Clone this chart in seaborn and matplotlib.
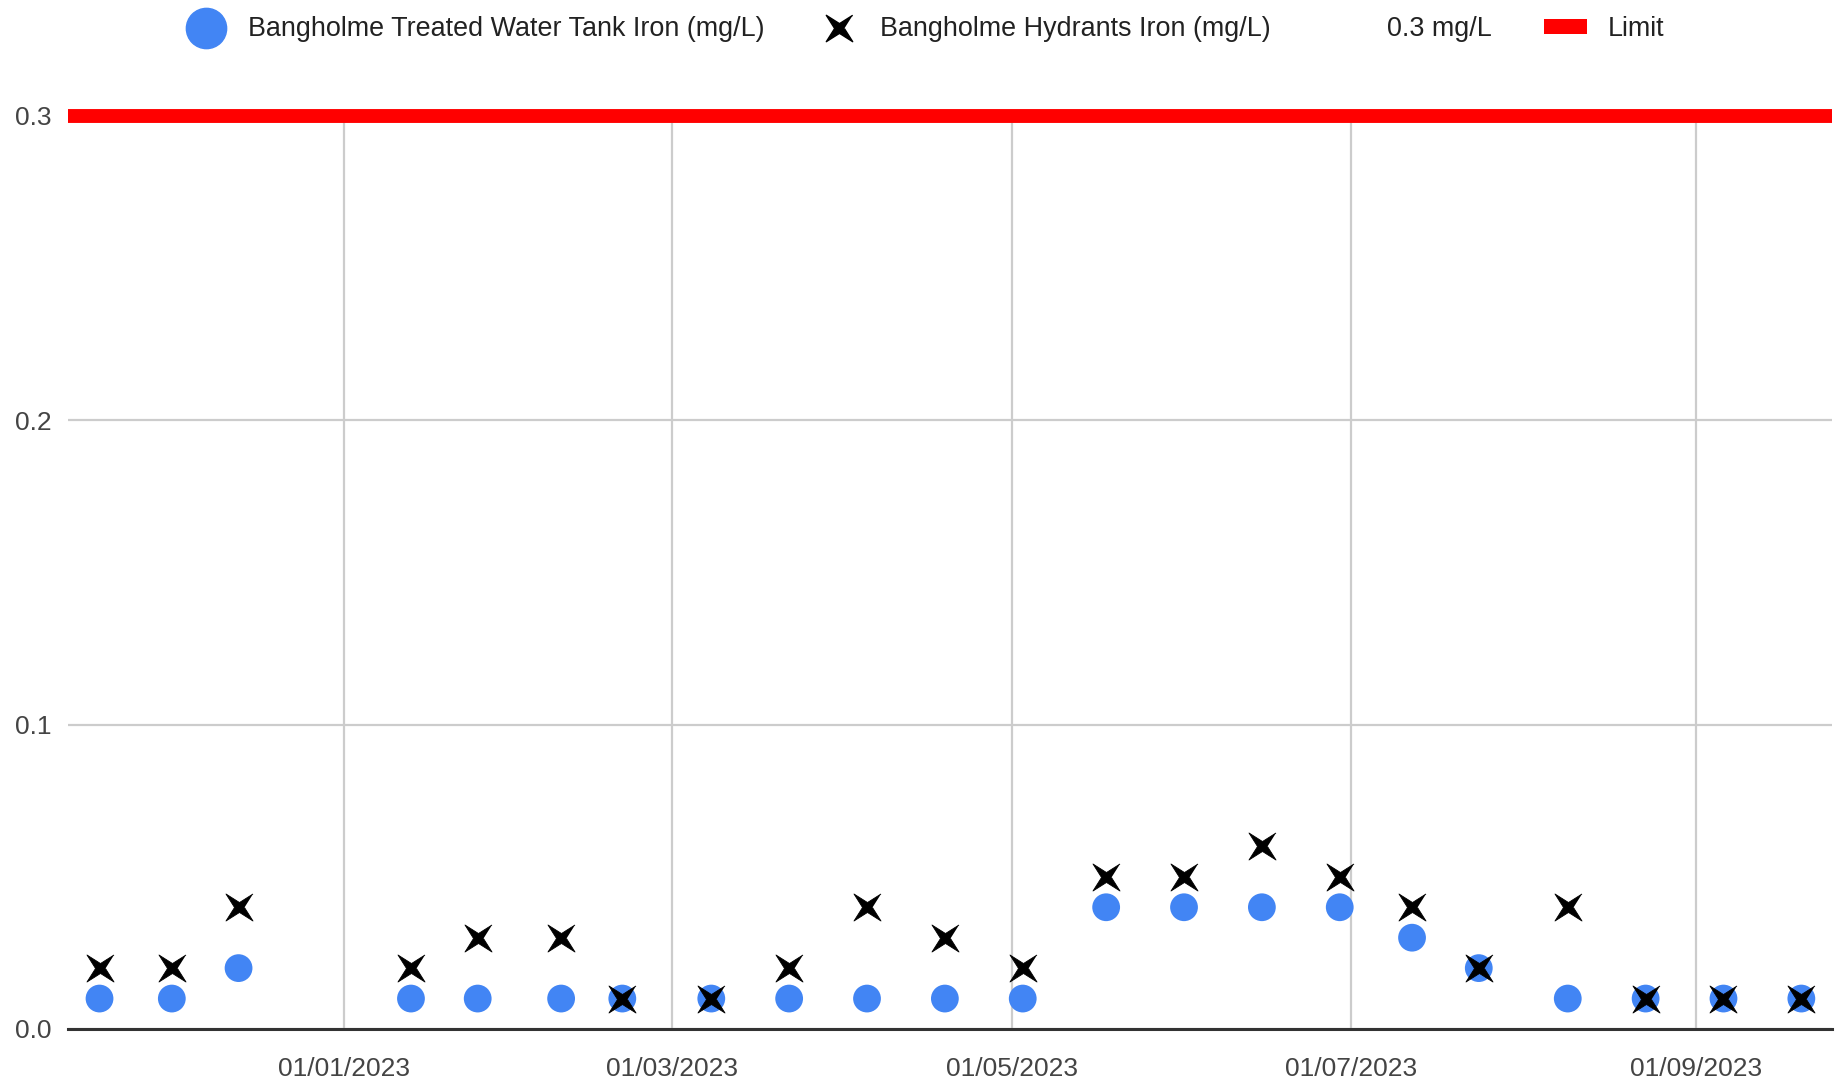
import pandas as pd
import numpy as np
import seaborn as sns
import matplotlib.pyplot as plt
import matplotlib.dates as mdates
from matplotlib.lines import Line2D
from matplotlib.patches import Patch

# sample dates
dates = ["2022-11-18", "2022-12-01", "2022-12-13", "2023-01-13", "2023-01-25",
         "2023-02-09", "2023-02-20", "2023-03-08", "2023-03-22", "2023-04-05",
         "2023-04-19", "2023-05-03", "2023-05-18", "2023-06-01", "2023-06-15",
         "2023-06-29", "2023-07-12", "2023-07-24", "2023-08-09", "2023-08-23",
         "2023-09-06", "2023-09-20"]
tank_iron = [0.01, 0.01, 0.02, 0.01, 0.01, 0.01, 0.01, 0.01, 0.01, 0.01, 0.01,
             0.01, 0.04, 0.04, 0.04, 0.04, 0.03, 0.02, 0.01, 0.01, 0.01, 0.01]
hydrant_iron = [0.02, 0.02, 0.04, 0.02, 0.03, 0.03, 0.01, 0.01, 0.02, 0.04, 0.03,
                0.02, 0.05, 0.05, 0.06, 0.05, 0.04, 0.02, 0.04, 0.01, 0.01, 0.01]
limit = 0.3
y_ticks = [0.0, 0.1, 0.2, 0.3]
x_ticks = ["2023-01-01", "2023-03-01", "2023-05-01", "2023-07-01", "2023-09-01"]
x_range = ["2022-11-12 08:00", "2023-09-25 12:00"]

tank_label = "Bangholme Treated Water Tank Iron (mg/L)"
hydrant_label = "Bangholme Hydrants Iron (mg/L)"

df = pd.DataFrame({"date": pd.to_datetime(dates), "tank": tank_iron, "hydrant": hydrant_iron})

sns.set_theme(style="white")
plt.rcParams['font.family'] = ['Liberation Sans', 'DejaVu Sans']

# thin 4-point star, like the google charts "x"
ang = np.deg2rad(np.arange(0, 360, 45) + 45)
rad = np.array([1.0, 0.26] * 4)
star = list(zip(rad * np.cos(ang), rad * np.sin(ang)))

fig = plt.figure(figsize=(18.38, 10.86), dpi=100)
ax = fig.add_axes([0.037, 0.0525, 0.9597, 0.8407])

blue = "#4285F4"
sns.scatterplot(data=df, x="date", y="tank", ax=ax, color=blue, s=400,
                marker="o", edgecolor="none", zorder=3)
sns.scatterplot(data=df, x="date", y="hydrant", ax=ax, color="black", s=380,
                marker=star, edgecolor="black", linewidth=0.6, zorder=4)

ax.axhline(limit, color="#FF0000", lw=10, zorder=5, clip_on=False, solid_capstyle="butt")

ax.set_ylim(0, limit)
ax.set_xlim(pd.to_datetime(x_range[0]), pd.to_datetime(x_range[1]))
ax.set_yticks(y_ticks)
ax.set_yticklabels([f"{v:.1f}" for v in y_ticks])
ax.set_xticks(pd.to_datetime(x_ticks))
ax.xaxis.set_major_formatter(mdates.DateFormatter("%d/%m/%Y"))

ax.grid(True, color="#CCCCCC", lw=1.6)
ax.set_axisbelow(True)
for s in ["top", "right", "left"]:
    ax.spines[s].set_visible(False)
ax.spines["bottom"].set_color("#333333")
ax.spines["bottom"].set_linewidth(2.2)
ax.spines["bottom"].set_zorder(2)
ax.tick_params(axis="both", length=0, labelsize=19, labelcolor="#444444")
ax.tick_params(axis="x", pad=20)
ax.tick_params(axis="y", pad=12)
ax.set_xlabel("")
ax.set_ylabel("")

handles = [
    Line2D([], [], marker="o", color=blue, linestyle="none", markersize=29),
    Line2D([], [], marker=star, color="black", linestyle="none", markersize=19),
    Line2D([], [], linestyle="none"),
    Patch(facecolor="#FF0000", edgecolor="none"),
]
labels = [tank_label, hydrant_label, "0.3 mg/L", "Limit"]
fig.legend(handles, labels, loc="center", bbox_to_anchor=(0.503, 0.973), ncol=4,
           frameon=False, fontsize=19.4, labelcolor="#222222", handlelength=1.6,
           handleheight=0.5, columnspacing=1.95, handletextpad=0.75)

plt.savefig("out.png", dpi=100)
